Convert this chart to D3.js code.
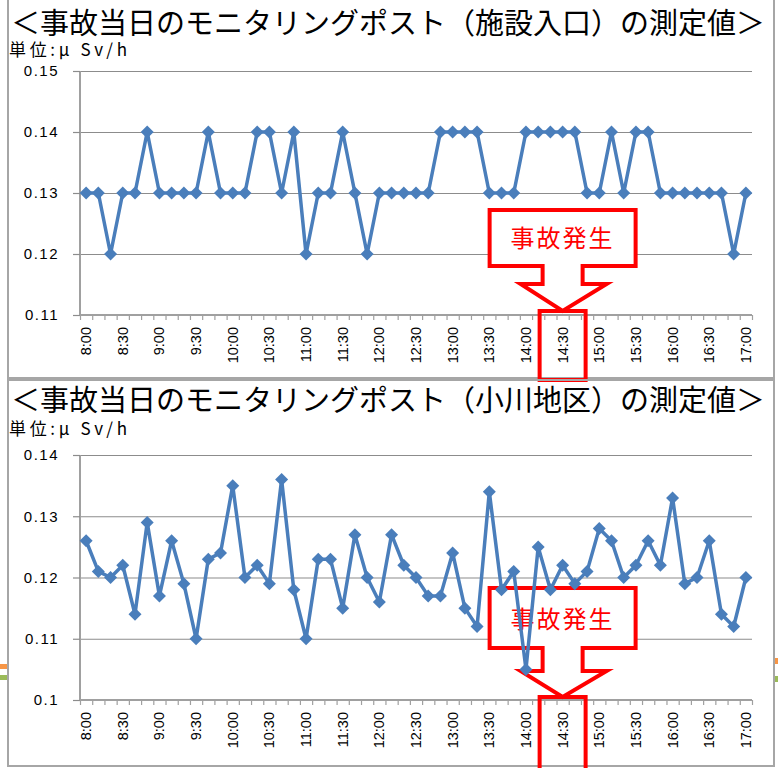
<!DOCTYPE html>
<html><head><meta charset="utf-8">
<script src="https://cdn.jsdelivr.net/npm/d3@7"></script>
<style>
html,body{margin:0;padding:0;background:#fff;}
svg{display:block;}
</style></head>
<body>
<svg id="c" width="778" height="768"></svg>
<script>
const times = ["8:00","8:10","8:20","8:30","8:40","8:50","9:00","9:10","9:20","9:30","9:40","9:50",
"10:00","10:10","10:20","10:30","10:40","10:50","11:00","11:10","11:20","11:30","11:40","11:50",
"12:00","12:10","12:20","12:30","12:40","12:50","13:00","13:10","13:20","13:30","13:40","13:50",
"14:00","14:10","14:20","14:30","14:40","14:50","15:00","15:10","15:20","15:30","15:40","15:50",
"16:00","16:10","16:20","16:30","16:40","16:50","17:00"];
const tickLabels = ["8:00","8:30","9:00","9:30","10:00","10:30","11:00","11:30","12:00","12:30",
"13:00","13:30","14:00","14:30","15:00","15:30","16:00","16:30","17:00"];
const entranceValues = [0.13,0.13,0.12,0.13,0.13,0.14,0.13,0.13,0.13,0.13,
0.14,0.13,0.13,0.13,0.14,0.14,0.13,0.14,0.12,0.13,
0.13,0.14,0.13,0.12,0.13,0.13,0.13,0.13,0.13,0.14,
0.14,0.14,0.14,0.13,0.13,0.13,0.14,0.14,0.14,0.14,
0.14,0.13,0.13,0.14,0.13,0.14,0.14,0.13,0.13,0.13,
0.13,0.13,0.13,0.12,0.13];
const ogawaValues = [0.126,0.121,0.120,0.122,0.114,0.129,0.117,0.126,0.119,0.110,
0.123,0.124,0.135,0.120,0.122,0.119,0.136,0.118,0.110,0.123,
0.123,0.115,0.127,0.120,0.116,0.127,0.122,0.120,0.117,0.117,
0.124,0.115,0.112,0.134,0.118,0.121,0.105,0.125,0.118,0.122,
0.119,0.121,0.128,0.126,0.120,0.122,0.126,0.122,0.133,0.119,
0.120,0.126,0.114,0.112,0.120];
const entranceTicks = [0.11,0.12,0.13,0.14,0.15];
const entranceTickLabels = ["0.11","0.12","0.13","0.14","0.15"];
const ogawaTicks = [0.10,0.11,0.12,0.13,0.14];
const ogawaTickLabels = ["0.1","0.11","0.12","0.13","0.14"];
const titles = ["＜事故当日のモニタリングポスト（施設入口）の測定値＞","＜事故当日のモニタリングポスト（小川地区）の測定値＞"];
const unitLabel = "単位:μ Sv/h";
const eventLabel = "事故発生";
const eventTime = "14:30";

const svg = d3.select("#c");
const LINE = "#4a7ebb", GRID = "#8c8c8c", RED = "#ff0000";
const L = 80, R = 752;

// decorative slide fragments at edges
svg.append("rect").attr("x",0).attr("y",664).attr("width",7).attr("height",5).attr("fill","#f79646");
svg.append("rect").attr("x",0).attr("y",675).attr("width",7).attr("height",5).attr("fill","#9bbb59");
svg.append("rect").attr("x",775).attr("y",658).attr("width",3).attr("height",6).attr("fill","#f79646");
svg.append("rect").attr("x",775).attr("y",676).attr("width",3).attr("height",6).attr("fill","#9bbb59");

const panels = [
  {frame:[8,-1,766,379], title:titles[0], titleY:34, unitY:56, values:entranceValues, ticks:entranceTicks, tickLabels:entranceTickLabels,
   yRange:[315,71], box:{top:210,bottom:266,head:284,tip:311,rectTop:311,rectBot:380,textY:247}},
  {frame:[8,380,766,386], title:titles[1], titleY:411, unitY:435, values:ogawaValues, ticks:ogawaTicks, tickLabels:ogawaTickLabels,
   yRange:[700,455], box:{top:588,bottom:648,head:671,tip:697,rectTop:697,rectBot:772,textY:628}}
];

const x = d3.scaleBand().domain(times).range([L,R]).padding(0);
const bw = x.bandwidth();
const cx = t => x(t) + bw/2;
const xb = d3.scaleLinear().domain([0,times.length]).range([L,R]);

panels.forEach(p => {
  const g = svg.append("g");
  g.append("rect").attr("x",p.frame[0]).attr("y",p.frame[1]).attr("width",p.frame[2]).attr("height",p.frame[3])
    .attr("fill","none").attr("stroke","#a6a6a6").attr("stroke-width",2);
  g.append("text").attr("x",11).attr("y",p.titleY).attr("font-family","'Noto Sans CJK JP'")
    .attr("font-size",29).attr("fill","#000").text(p.title);
  g.append("text").attr("x",9).attr("y",p.unitY).attr("font-family","'Noto Sans CJK JP'")
    .attr("font-size",17).attr("fill","#000").attr("textLength",118).attr("lengthAdjust","spacing").text(unitLabel);

  const y = d3.scaleLinear().domain([p.ticks[0], p.ticks[p.ticks.length-1]]).range(p.yRange);
  const base = p.yRange[0];

  // gridlines
  const grid = g.append("g").attr("transform",`translate(${L},0)`)
    .call(d3.axisLeft(y).tickValues(p.ticks).tickSize(-(R-L)).tickFormat(""));
  grid.select(".domain").remove();
  grid.selectAll("line").attr("stroke",GRID).attr("stroke-width",1.2);

  // y axis with ticks and labels
  const ya = g.append("g").attr("transform",`translate(${L},0)`)
    .call(d3.axisLeft(y).tickValues(p.ticks).tickSize(7).tickPadding(14)
      .tickFormat((d,i)=>p.tickLabels[i]));
  ya.select(".domain").attr("stroke","#a0a0a0").attr("stroke-width",2).attr("d",`M0,${p.yRange[0]}V${p.yRange[1]}`);
  ya.selectAll("line").attr("stroke",GRID).attr("stroke-width",1.2);
  ya.selectAll("text").attr("font-family","'Liberation Sans', Arial").attr("font-size",15)
    .attr("letter-spacing","1.5px").attr("fill","#000");

  // x axis boundary ticks
  const xa = g.append("g").attr("transform",`translate(0,${base})`)
    .call(d3.axisBottom(xb).tickValues(d3.range(times.length+1)).tickSize(5).tickFormat(""));
  xa.select(".domain").attr("stroke","#a0a0a0").attr("stroke-width",2).attr("d",`M${L},0H${R}`);
  xa.selectAll("line").attr("stroke","#a0a0a0").attr("stroke-width",1.2);

  // x labels
  g.selectAll(".xl").data(tickLabels).enter().append("text")
    .attr("transform", d => `translate(${cx(d)},${base+12}) rotate(-90)`)
    .attr("text-anchor","end").attr("dy","0.35em")
    .attr("font-family","'Liberation Sans', Arial").attr("font-size",14.5).attr("fill","#000")
    .text(d=>d);

  // callout
  const ex = cx(eventTime);
  const b = p.box;
  const bx0 = ex-73, bx1 = ex+73, sx0 = ex-20, sx1 = ex+20, hx0 = ex-42, hx1 = ex+44;
  g.append("path").attr("d",
    `M${bx0},${b.top}H${bx1}V${b.bottom}H${sx1}V${b.head}H${hx1}L${ex},${b.tip}L${hx0},${b.head}H${sx0}V${b.bottom}H${bx0}Z`)
    .attr("fill","#fff").attr("stroke",RED).attr("stroke-width",4).attr("stroke-linejoin","miter");
  g.append("text").attr("x",ex).attr("y",b.textY).attr("text-anchor","middle")
    .attr("font-family","'Noto Sans CJK JP'").attr("font-size",24).attr("letter-spacing","2px")
    .attr("fill",RED).text(eventLabel);
  g.append("rect").attr("x",ex-23).attr("y",b.rectTop).attr("width",46).attr("height",b.rectBot-b.rectTop)
    .attr("fill","none").attr("stroke",RED).attr("stroke-width",4);

  // series
  const line = d3.line().x((d,i)=>cx(times[i])).y(d=>y(d));
  g.append("path").datum(p.values).attr("d",line).attr("fill","none")
    .attr("stroke",LINE).attr("stroke-width",3.5).attr("stroke-linejoin","round");
  g.selectAll(".m").data(p.values).enter().append("path")
    .attr("transform",(d,i)=>`translate(${cx(times[i])},${y(d)})`)
    .attr("d","M0,-6.5L6.5,0L0,6.5L-6.5,0Z").attr("fill",LINE);
});
</script>
</body></html>
